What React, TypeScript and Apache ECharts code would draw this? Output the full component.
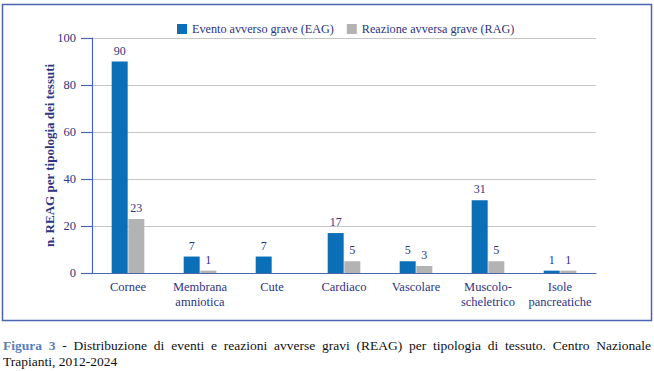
import React, { useEffect, useRef } from "react";
import * as echarts from "echarts";

const categories = [
  "Cornee",
  "Membrana\namniotica",
  "Cute",
  "Cardiaco",
  "Vascolare",
  "Muscolo-\nscheletrico",
  "Isole\npancreatiche",
];
const eagValues: (number | null)[] = [90, 7, 7, 17, 5, 31, 1];
const ragValues: (number | null)[] = [23, 1, null, 5, 3, 5, 1];
const seriesNames = ["Evento avverso grave (EAG)", "Reazione avversa grave (RAG)"];
const yTicks = { min: 0, max: 100, interval: 20 };
const yAxisName = "n. REAG per tipologia dei tessuti";
const captionLine1 = [
  { w: "Figura", bold: true },
  { w: "3", bold: true },
  { w: "-", bold: false },
  { w: "Distribuzione", bold: false },
  { w: "di", bold: false },
  { w: "eventi", bold: false },
  { w: "e", bold: false },
  { w: "reazioni", bold: false },
  { w: "avverse", bold: false },
  { w: "gravi", bold: false },
  { w: "(REAG)", bold: false },
  { w: "per", bold: false },
  { w: "tipologia", bold: false },
  { w: "di", bold: false },
  { w: "tessuto.", bold: false },
  { w: "Centro", bold: false },
  { w: "Nazionale", bold: false },
];
const captionLine2 = "Trapianti, 2012-2024";

const FONT = "'Liberation Serif', 'Times New Roman', serif";
const NAVY = "#2d3580";
const AXIS = "#4a64ae";
const BLUE = "#0b6fb7";
const GRAY = "#b3b3b3";

export default function App() {
  const ref = useRef<HTMLDivElement>(null);
  useEffect(() => {
    if (!ref.current) return;
    const chart = echarts.init(ref.current, null, { renderer: "svg" });

    const capSize = 13.5;
    const canvas = document.createElement("canvas");
    const ctx = canvas.getContext("2d")!;
    const widths = captionLine1.map((it) => {
      ctx.font = `${it.bold ? "bold " : ""}${capSize}px 'Liberation Serif'`;
      return ctx.measureText(it.w).width;
    });
    const left = 3;
    const right = 651;
    const total = widths.reduce((a, b) => a + b, 0);
    const gap = (right - left - total) / (captionLine1.length - 1);
    let cx = left;
    const capElems: any[] = captionLine1.map((it, i) => {
      const el = {
        type: "text",
        x: cx,
        y: 345,
        style: {
          text: it.w,
          font: `${it.bold ? "bold " : ""}${capSize}px ${FONT}`,
          fill: it.bold ? "#5a7fb8" : "#111",
          textVerticalAlign: "middle",
          textAlign: "left",
        },
      };
      cx += widths[i] + gap;
      return el;
    });

    chart.setOption({
      animation: false,
      textStyle: { fontFamily: FONT },
      legend: {
        data: seriesNames,
        left: 172,
        top: 18,
        icon: "rect",
        itemWidth: 10,
        itemHeight: 10,
        itemGap: 13,
        textStyle: { fontFamily: FONT, fontSize: 12.2, color: NAVY },
      },
      grid: { left: 92, right: 58, top: 38, bottom: 98, containLabel: false },
      xAxis: {
        type: "category",
        data: categories,
        axisLine: { lineStyle: { color: AXIS, width: 1.2 } },
        axisTick: { length: 10, lineStyle: { color: AXIS, width: 1.2 } },
        axisLabel: {
          fontFamily: FONT,
          fontSize: 12.5,
          color: NAVY,
          margin: 6,
          lineHeight: 15,
          interval: 0,
        },
      },
      yAxis: {
        type: "value",
        min: yTicks.min,
        max: yTicks.max,
        interval: yTicks.interval,
        name: yAxisName,
        nameLocation: "middle",
        nameGap: 36,
        nameMoveOverlap: false,
        nameTextStyle: { fontFamily: FONT, fontSize: 13, fontWeight: "bold", color: NAVY },
        axisLine: { show: true, lineStyle: { color: AXIS, width: 1.2 } },
        axisTick: { show: true, length: 11, lineStyle: { color: AXIS, width: 1.2 } },
        axisLabel: { fontFamily: FONT, fontSize: 12.5, color: NAVY, margin: 16 },
        splitLine: { lineStyle: { color: "#c6c6c6", width: 1.2 } },
      },
      series: [
        {
          name: seriesNames[0],
          type: "bar",
          data: eagValues,
          barWidth: 16,
          barGap: "4%",
          itemStyle: { color: BLUE },
          label: { show: true, position: "top", distance: 5, fontFamily: FONT, fontSize: 12, color: NAVY },
        },
        {
          name: seriesNames[1],
          type: "bar",
          data: ragValues,
          barWidth: 16,
          barGap: "4%",
          itemStyle: { color: GRAY },
          label: { show: true, position: "top", distance: 5, fontFamily: FONT, fontSize: 12, color: NAVY },
        },
      ],
      graphic: [
        {
          type: "rect",
          shape: { x: 2.5, y: 4.5, width: 649, height: 316 },
          style: { fill: "none", stroke: AXIS, lineWidth: 1.5 },
          silent: true,
        },
        ...capElems,
        {
          type: "text",
          x: 3,
          y: 361,
          style: {
            text: captionLine2,
            font: `${capSize}px ${FONT}`,
            fill: "#111",
            textVerticalAlign: "middle",
            textAlign: "left",
          },
        },
      ],
    });
    return () => chart.dispose();
  }, []);
  return (
    <div
      ref={ref}
      style={{ position: "absolute", left: 0, top: 0, width: 654, height: 371, background: "#fff" }}
    />
  );
}
